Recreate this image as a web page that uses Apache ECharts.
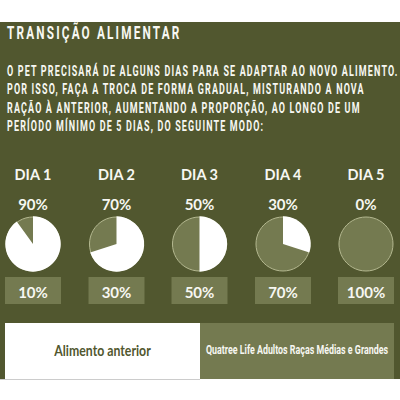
<!DOCTYPE html>
<html>
<head>
<meta charset="utf-8">
<style>
html,body{margin:0;padding:0;background:#fff}
#main{width:400px;height:400px}
</style>
<script src="https://cdn.jsdelivr.net/npm/echarts@6/dist/echarts.min.js"></script>
</head>
<body>
<div id="main"></div>
<script>
var days = ["DIA 1","DIA 2","DIA 3","DIA 4","DIA 5"];
var oldShare = [90,70,50,30,0];
var newShare = [10,30,50,70,100];
var titleText = "TRANSIÇÃO ALIMENTAR";
var bodyLines = [
    "O PET PRECISARÁ DE ALGUNS DIAS PARA SE ADAPTAR AO NOVO ALIMENTO.",
    "POR ISSO, FAÇA A TROCA DE FORMA GRADUAL, MISTURANDO A NOVA",
    "RAÇÃO À ANTERIOR, AUMENTANDO A PROPORÇÃO, AO LONGO DE UM",
    "PERÍODO MÍNIMO DE 5 DIAS, DO SEGUINTE MODO:"
];
var legendOld = "Alimento anterior";
var legendNew = "Quatree Life Adultos Raças Médias e Grandes";

var dark = '#51572f';
var olive = '#747a50';
var light = '#f7f7f2';
var ring = '#b4b890';
var centers = [33,116.5,199.5,283,366];
var lineY = [71,89,108,126];

var myChart = echarts.init(document.getElementById('main'),null,{renderer:'svg'});

function label(x,y,str,size,font,color,align,sx){
    return {
        type:'text',
        x:x,
        y:y,
        z:10,
        scaleX:sx||1,
        style:{
            text:str,
            fill:color||light,
            font:'bold '+size+'px '+font,
            textAlign:align||'center',
            textVerticalAlign:'middle'
        }
    };
}

var graphic = [
    {type:'rect',z:-10,shape:{x:0,y:22,width:400,height:357},style:{fill:dark}},
    {type:'rect',z:1,shape:{x:5,y:323,width:195,height:56},style:{fill:'#fff'}},
    {type:'rect',z:1,shape:{x:200,y:323,width:194,height:56},style:{fill:olive}},
    {type:'rect',z:1,shape:{x:0,y:379,width:200,height:0.7},style:{fill:'#bbb'}},
    label(7,32.5,titleText,19,'Roboto',light,'left',0.62),
    label(102.5,350,legendOld,15,'Lato',dark,'center',0.82),
    label(297,350,legendNew,12,'Roboto',light,'center',0.74)
];
bodyLines.forEach(function(t,i){
    graphic.push(label(7,lineY[i],t,14,'Roboto',light,'left',0.64));
});

var series = [];
days.forEach(function(d,i){
    var cx = centers[i];
    graphic.push(label(cx,174,d,14.5,'Lato'));
    graphic.push(label(cx,204,oldShare[i]+'%',15,'Lato'));
    graphic.push({type:'rect',z:1,shape:{x:cx-28,y:277,width:56,height:27},style:{fill:olive}});
    graphic.push(label(cx,291.5,newShare[i]+'%',15,'Lato'));
    // back disc with the thin outline
    series.push({
        type:'pie',silent:true,animation:false,
        center:[cx,244],radius:[0,27],
        label:{show:false},labelLine:{show:false},
        itemStyle:{color:olive,borderColor:ring,borderWidth:1},
        data:[100]
    });
    series.push({
        type:'pie',silent:true,animation:false,
        center:[cx,244],radius:[0,27.7],startAngle:90,clockwise:true,
        label:{show:false},labelLine:{show:false},
        data:[
            {value:oldShare[i],itemStyle:{color:'#fff'}},
            {value:newShare[i],itemStyle:{color:'transparent'}}
        ]
    });
});

myChart.setOption({
    animation:false,
    backgroundColor:'#fff',
    graphic:graphic,
    series:series
});

// letter spacing for the condensed headings, svg text only
var all = document.querySelectorAll('#main text');
for(var i=0;i<all.length;i++){
    if(all[i].textContent==titleText) all[i].style.letterSpacing='3.5px';
    else if(bodyLines.indexOf(all[i].textContent)>=0) all[i].style.letterSpacing='1.82px';
}
</script>
</body>
</html>
